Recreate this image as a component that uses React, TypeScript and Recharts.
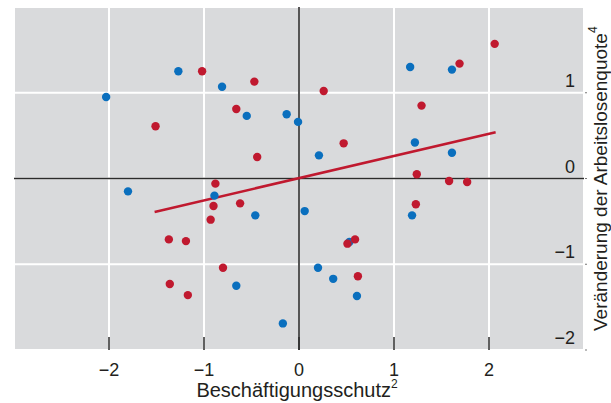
import { ScatterChart, Scatter, XAxis, YAxis, CartesianGrid, ReferenceLine, Label } from "recharts";

// Achsen
const xTicks = [-2, -1, 0, 1, 2];
const yTicks = [-2, -1, 0, 1];

// blaue Punkte
const blueX = [-2.03, -1.27, -0.81, -1.8, -0.55, -0.13, -0.01, 0.21, -0.89, -0.46, 0.06, -0.66, -0.17, 0.2, 0.36, 0.53, 0.61, 1.17, 1.61, 1.22, 1.61, 1.19];
const blueY = [0.95, 1.25, 1.07, -0.15, 0.73, 0.75, 0.66, 0.27, -0.2, -0.43, -0.38, -1.25, -1.69, -1.04, -1.17, -0.74, -1.37, 1.3, 1.27, 0.42, 0.3, -0.43];

// rote Punkte
const redX = [-1.02, -0.47, -0.66, 0.26, 0.47, -0.44, -1.51, -0.88, -0.9, -0.93, -0.62, -0.8, -1.37, -1.19, -1.36, -1.17, 0.51, 0.59, 0.62, 2.06, 1.69, 1.29, 1.24, 1.58, 1.77, 1.23];
const redY = [1.25, 1.13, 0.81, 1.02, 0.41, 0.25, 0.61, -0.06, -0.32, -0.48, -0.29, -1.04, -0.71, -0.73, -1.23, -1.36, -0.76, -0.71, -1.14, 1.57, 1.34, 0.85, 0.05, -0.03, -0.04, -0.3];

// Regressionsgerade
const fitX = [-1.52, 2.07];
const fitY = [-0.39, 0.54];

const xTitle = "Beschäftigungsschutz";
const xTitleSup = "2";
const yTitle = "Veränderung der Arbeitslosenquote";
const yTitleSup = "4";

const BLUE = "#0a6fbe";
const RED = "#c0192f";
const BG = "#d9dadc";
const DARK = "#2b2b2b";
const TEXT = "#231f20";
const FONT = "'Liberation Sans', Arial, Helvetica, sans-serif";

const blueData = blueX.map((x, i) => ({ x, y: blueY[i] }));
const redData = redX.map((x, i) => ({ x, y: redY[i] }));

const fmt = (v: number) => (v < 0 ? `\u2212${Math.abs(v)}` : `${v}`);

const XTick = ({ x, y, payload }: any) => (
  <g>
    <line x1={x} x2={x} y1={y - 13} y2={y} stroke={DARK} strokeWidth={1.5} />
    <text x={x} y={y + 26} textAnchor="middle" fontSize={18} fill={TEXT} fontFamily={FONT}>
      {fmt(payload.value)}
    </text>
  </g>
);

const YTick = ({ x, y, payload }: any) => (
  <g>
    <line x1={x + 1} x2={x + 3} y1={y} y2={y} stroke="#777" strokeWidth={1} />
    <text x={x - 9} y={y - 6} textAnchor="end" fontSize={18} fill={TEXT} fontFamily={FONT}>
      {fmt(payload.value)}
    </text>
  </g>
);

const Dot = (color: string) => (props: any) => (
  <circle cx={props.cx} cy={props.cy} r={4.2} fill={color} />
);

export default function App() {
  return (
    <div style={{ position: "absolute", left: 0, top: 0, width: 611, height: 403, background: "#fff" }}>
      <ScatterChart width={611} height={403} margin={{ top: 7, right: 0, bottom: 0, left: 14 }}>
        <CartesianGrid fill={BG} fillOpacity={1} stroke="#fff" strokeWidth={2} />
        <XAxis
          type="number"
          dataKey="x"
          domain={[-3, 3]}
          ticks={xTicks}
          allowDataOverflow
          axisLine={false}
          tickLine={false}
          tickSize={0}
          tickMargin={0}
          height={53}
          tick={<XTick />}
          interval={0}
        >
          <Label
            content={(p: any) => {
              const vb = p.viewBox || { x: 14, y: 350, width: 570 };
              return (
                <text x={vb.x + vb.width / 2 - 2} y={vb.y + 47} textAnchor="middle" fontSize={20} fill={TEXT} fontFamily={FONT}>
                  {xTitle}
                  <tspan dy={-9} fontSize={12}>{xTitleSup}</tspan>
                </text>
              );
            }}
          />
        </XAxis>
        <YAxis
          type="number"
          dataKey="y"
          orientation="right"
          domain={[-2, 2]}
          ticks={yTicks}
          allowDataOverflow
          axisLine={false}
          tickLine={false}
          tickSize={0}
          tickMargin={0}
          width={27}
          tick={<YTick />}
          interval={0}
        >
          <Label
            content={(p: any) => {
              const vb = p.viewBox || { x: 584, y: 7, width: 27, height: 343 };
              const tx = vb.x + 23;
              const ty = vb.y + vb.height - 19;
              return (
                <text x={tx} y={ty} transform={`rotate(-90, ${tx}, ${ty})`} textAnchor="start" fontSize={19} fill={TEXT} fontFamily={FONT}>
                  {yTitle}
                  <tspan dy={-10} fontSize={12}>{yTitleSup}</tspan>
                </text>
              );
            }}
          />
        </YAxis>
        <ReferenceLine x={0} stroke={DARK} strokeWidth={1.6} />
        <ReferenceLine y={0} stroke={DARK} strokeWidth={1.6} />
        <Scatter data={blueData} fill={BLUE} shape={Dot(BLUE)} isAnimationActive={false} />
        <Scatter data={redData} fill={RED} shape={Dot(RED)} isAnimationActive={false} />
        <ReferenceLine
          segment={[
            { x: fitX[0], y: fitY[0] },
            { x: fitX[1], y: fitY[1] },
          ]}
          stroke={RED}
          strokeWidth={2.6}
          ifOverflow="visible"
        />
      </ScatterChart>
    </div>
  );
}
